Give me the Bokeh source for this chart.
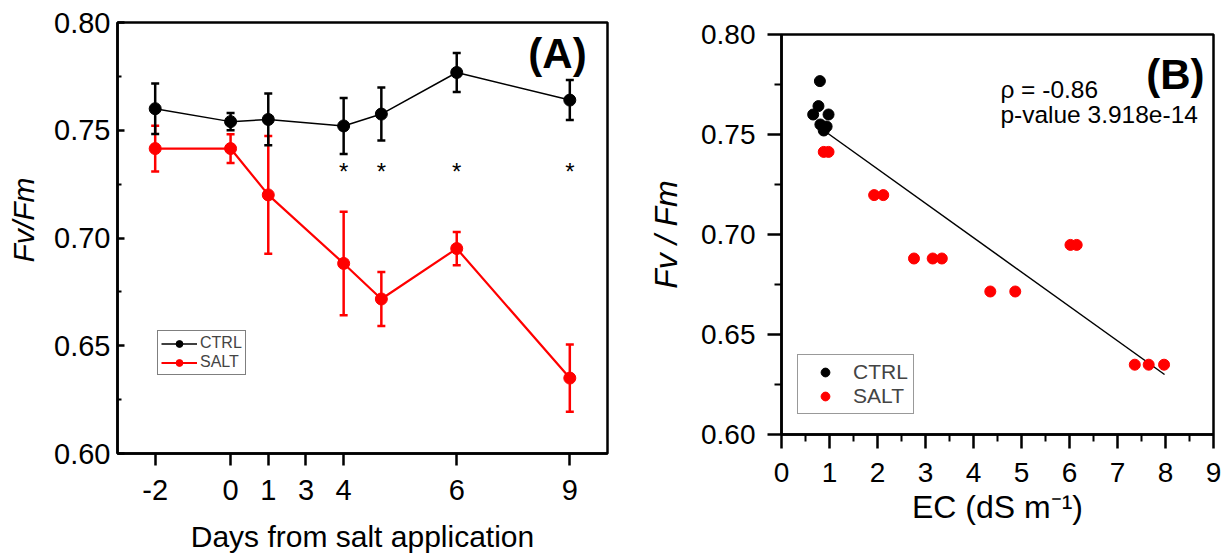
from bokeh.plotting import figure
from bokeh.layouts import row
from bokeh.models import (ColumnDataSource, FixedTicker, Whisker, TeeHead, Legend,
                          LegendItem, Label, NumeralTickFormatter, Title)
from bokeh.embed import file_html
from bokeh.resources import INLINE
from bokeh.core.properties import value

FONT = "Liberation Sans"

# ---------------- Panel A data ----------------
tick_pos = [0, 2, 3, 4, 5, 8, 11]
tick_labels = ["-2", "0", "1", "3", "4", "6", "9"]
point_pos = [0, 2, 3, 5, 6, 8, 11]
ctrl_mean = [0.760, 0.754, 0.755, 0.752, 0.7575, 0.7768, 0.764]
ctrl_err = [0.0117, 0.004, 0.012, 0.013, 0.0123, 0.009, 0.0093]
salt_mean = [0.7415, 0.7415, 0.720, 0.6882, 0.6717, 0.6951, 0.635]
salt_err = [0.0106, 0.0067, 0.0273, 0.024, 0.0125, 0.0077, 0.0156]
sig_pos = [5, 6, 8, 11]
sig_y = 0.7307
y_ticks = [0.60, 0.65, 0.70, 0.75, 0.80]
y_minor = [0.625, 0.675, 0.725, 0.775]

# ---------------- Panel B data ----------------
ctrl_ec = [0.80, 0.77, 0.66, 0.98, 0.81, 0.94, 0.88]
ctrl_fv = [0.7767, 0.7642, 0.760, 0.760, 0.755, 0.754, 0.752]
salt_ec = [0.88, 0.98, 1.93, 2.12, 2.76, 3.15, 3.34, 4.35, 4.87, 6.02, 6.15, 7.36, 7.65, 7.97]
salt_fv = [0.7413, 0.7413, 0.7197, 0.7197, 0.688, 0.688, 0.688, 0.6715, 0.6715,
           0.6948, 0.6948, 0.6349, 0.6349, 0.6349]
fit_ec = [0.94, 7.98]
fit_fv = [0.751, 0.630]
x_ticks_b = [0, 1, 2, 3, 4, 5, 6, 7, 8, 9]
x_minor_b = [0.5, 1.5, 2.5, 3.5, 4.5, 5.5, 6.5, 7.5, 8.5]


def style_axis(ax, tick_size, label_size):
    ax.axis_line_width = 2.5
    ax.axis_line_color = "black"
    ax.major_tick_line_width = 2.5
    ax.minor_tick_line_width = 2
    ax.major_tick_line_color = "black"
    ax.minor_tick_line_color = "black"
    ax.major_label_text_font = FONT
    ax.major_label_text_font_size = tick_size
    ax.major_label_text_color = "black"
    ax.axis_label_text_font = FONT
    ax.axis_label_text_font_size = label_size
    ax.axis_label_text_font_style = "normal"
    ax.axis_label_text_color = "black"


# ================= Panel A =================
p1 = figure(width=628, height=557, x_range=(-1, 12), y_range=(0.6, 0.8),
            output_backend="svg", toolbar_location=None,
            min_border_left=125, min_border_right=13, min_border_top=22,
            min_border_bottom=104, frame_align=False, margin=(0, 0, 0, -8))
p1.xgrid.visible = False
p1.ygrid.visible = False
p1.outline_line_color = "black"
p1.outline_line_width = 2.5
p1.outline_line_alpha = 1

xa = p1.xaxis[0]
ya = p1.yaxis[0]
style_axis(xa, "29px", "30px")
style_axis(ya, "29px", "30px")
xa.ticker = FixedTicker(ticks=tick_pos)
xa.major_label_overrides = {t: l for t, l in zip(tick_pos, tick_labels)}
xa.major_tick_out = 12
xa.major_tick_in = 0
xa.minor_tick_out = 0
xa.minor_tick_in = 0
xa.major_label_standoff = 14
xa.axis_label = "Days from salt application"
xa.axis_label_standoff = 17

ya.ticker = FixedTicker(ticks=y_ticks, minor_ticks=y_minor)
ya.formatter = NumeralTickFormatter(format="0.00")
ya.major_tick_in = 7
ya.major_tick_out = 0
ya.minor_tick_in = 4
ya.minor_tick_out = 0
ya.major_label_standoff = 7

# y-axis title, placed off-centre as in the original
p1.add_layout(Title(text="Fv/Fm", align="left", offset=191, standoff=24,
                    text_font=FONT, text_font_size="30px", text_font_style="italic",
                    text_color="black"), "left")

src_s = ColumnDataSource(dict(x=point_pos, y=salt_mean,
                              lo=[m - e for m, e in zip(salt_mean, salt_err)],
                              hi=[m + e for m, e in zip(salt_mean, salt_err)]))
src_c = ColumnDataSource(dict(x=point_pos, y=ctrl_mean,
                              lo=[m - e for m, e in zip(ctrl_mean, ctrl_err)],
                              hi=[m + e for m, e in zip(ctrl_mean, ctrl_err)]))

for src, col in [(src_s, "#ff0000"), (src_c, "black")]:
    w = Whisker(source=src, base="x", lower="lo", upper="hi",
                line_color=col, line_width=2.5,
                upper_head=TeeHead(size=8, line_color=col, line_width=2.5),
                lower_head=TeeHead(size=8, line_color=col, line_width=2.5))
    p1.add_layout(w)

ls = p1.line("x", "y", source=src_s, line_color="#ff0000", line_width=2.2)
ms = p1.scatter("x", "y", source=src_s, size=12, marker="circle",
                fill_color="#ff0000", line_color="#ff0000")
lc = p1.line("x", "y", source=src_c, line_color="black", line_width=1.5)
mc = p1.scatter("x", "y", source=src_c, size=12, marker="circle",
                fill_color="black", line_color="black")

p1.text(x=sig_pos, y=[sig_y] * len(sig_pos), text=["*"] * len(sig_pos),
        text_font=value(FONT), text_font_size="24px", text_align="center",
        text_baseline="alphabetic", text_color="black")

p1.add_layout(Label(x=9.9, y=0.7855, text="(A)", text_font=FONT, text_font_size="42px",
                    text_font_style="bold", text_baseline="middle", text_align="left",
                    text_color="black"))

leg_a = Legend(items=[LegendItem(label="CTRL", renderers=[lc, mc]),
                      LegendItem(label="SALT", renderers=[ls, ms])],
               location=(40, 78), label_text_font=FONT, label_text_font_size="16px",
               label_height=17, glyph_height=17, glyph_width=36, label_standoff=3,
               padding=3, spacing=1, margin=0,
               border_line_color="black", border_line_width=1.2,
               background_fill_alpha=1)
p1.add_layout(leg_a, "center")

# ================= Panel B =================
p2 = figure(width=605, height=557, x_range=(0, 9), y_range=(0.6, 0.8),
            output_backend="svg", toolbar_location=None,
            min_border_left=161, min_border_right=12, min_border_top=34,
            min_border_bottom=123, frame_align=False)
p2.xgrid.visible = False
p2.ygrid.visible = False
p2.outline_line_color = "black"
p2.outline_line_width = 2.5
p2.outline_line_alpha = 1

xb = p2.xaxis[0]
yb = p2.yaxis[0]
style_axis(xb, "28px", "32px")
style_axis(yb, "28px", "32px")
xb.ticker = FixedTicker(ticks=x_ticks_b, minor_ticks=x_minor_b)
xb.major_tick_out = 14
xb.major_tick_in = 0
xb.minor_tick_out = 7
xb.minor_tick_in = 0
xb.major_label_standoff = 14
xb.axis_label = "EC (dS m\u207b\u00b9)"
xb.axis_label_standoff = 4

yb.ticker = FixedTicker(ticks=y_ticks, minor_ticks=y_minor)
yb.formatter = NumeralTickFormatter(format="0.00")
yb.major_tick_out = 14
yb.major_tick_in = 0
yb.minor_tick_out = 7
yb.minor_tick_in = 0
yb.major_label_standoff = 12
yb.axis_label = "Fv / Fm"
yb.axis_label_text_font_style = "italic"
yb.axis_label_standoff = 14

p2.line(fit_ec, fit_fv, line_color="black", line_width=1.5)
rc = p2.scatter(ctrl_ec, ctrl_fv, size=11, marker="circle",
                fill_color="black", line_color="black")
rs = p2.scatter(salt_ec, salt_fv, size=11, marker="circle",
                fill_color="#ff0000", line_color="#ff0000")

p2.add_layout(Label(x=4.56, y=0.7725, text="\u03c1 = -0.86", text_font=FONT,
                    text_font_size="24.5px", text_baseline="alphabetic", text_color="black"))
p2.add_layout(Label(x=4.56, y=0.760, text="p-value 3.918e-14", text_font=FONT,
                    text_font_size="24.5px", text_baseline="alphabetic", text_color="black"))
p2.add_layout(Label(x=7.6, y=0.780, text="(B)", text_font=FONT, text_font_size="42px",
                    text_font_style="bold", text_baseline="middle", text_align="left",
                    text_color="black"))

leg_b = Legend(items=[LegendItem(label="CTRL", renderers=[rc]),
                      LegendItem(label="SALT", renderers=[rs])],
               location=(16, 20), label_text_font=FONT, label_text_font_size="21px",
               label_height=22, glyph_height=22, glyph_width=44, label_standoff=6,
               padding=5, spacing=0, margin=0,
               border_line_color="#333333", border_line_width=1.5,
               background_fill_alpha=1)
p2.add_layout(leg_b, "center")

layout = row(p1, p2, spacing=0)
open("out.html", "w").write(file_html(layout, INLINE))
